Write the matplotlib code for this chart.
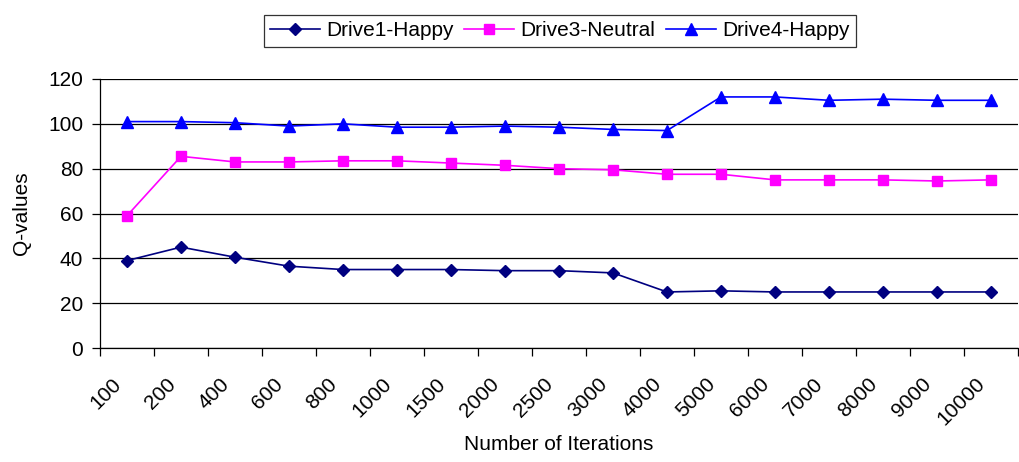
import numpy as np
import matplotlib
matplotlib.use("Agg")
import matplotlib.pyplot as plt
from matplotlib.transforms import ScaledTranslation

plt.rcParams['font.family'] = ['Liberation Sans', 'DejaVu Sans']

# valeurs Q par nombre d'itérations
iterations = ['100', '200', '400', '600', '800', '1000', '1500', '2000', '2500',
              '3000', '4000', '5000', '6000', '7000', '8000', '9000', '10000']
drive1_happy = [39, 45, 40.5, 36.5, 35, 35, 35, 34.5, 34.5, 33.5,
                25, 25.5, 25, 25, 25, 25, 25]
drive3_neutral = [59, 85.5, 83, 83, 83.5, 83.5, 82.5, 81.5, 80, 79.5,
                  77.5, 77.5, 75, 75, 75, 74.5, 75]
drive4_happy = [101, 101, 100.5, 99, 100, 98.5, 98.5, 99, 98.5, 97.5,
                97, 112, 112, 110.5, 111, 110.5, 110.5]

x = np.arange(len(iterations))

fig = plt.figure(figsize=(10.19, 4.62), dpi=100)
ax = fig.add_axes([100/1019, 114/462, 918/1019, 269/462])

ax.plot(x, drive1_happy, color='#000080', marker='D', markersize=6.5, lw=1.2,
        label='Drive1-Happy')
ax.plot(x, drive3_neutral, color='#FF00FF', marker='s', markersize=7.5, lw=1.2,
        label='Drive3-Neutral')
ax.plot(x, drive4_happy, color='#0000FF', marker='^', markersize=8.5, lw=1.2,
        label='Drive4-Happy')

ax.set_xlim(-0.5, len(iterations) - 0.5)
ax.set_ylim(0, 120)
ax.set_yticks(np.arange(0, 121, 20))
ax.yaxis.grid(True, color='black', lw=0.9)
ax.set_axisbelow(True)

# traits de graduation entre les catégories, étiquettes au centre
ax.set_xticks(np.arange(-0.5, len(iterations), 1.0))
ax.set_xticklabels([])
ax.set_xticks(x, minor=True)
ax.set_xticklabels(iterations, minor=True, rotation=45, ha='right', va='top',
                   rotation_mode='anchor', fontsize=15)
ax.tick_params(axis='x', which='major', length=6, width=0.9, direction='out')
ax.tick_params(axis='x', which='minor', length=0, pad=19)
ax.tick_params(axis='y', length=6, width=0.9, pad=6, labelsize=15)
for lab in ax.get_xticklabels(minor=True):
    lab.set_transform(lab.get_transform() + ScaledTranslation(-11/72, 0, fig.dpi_scale_trans))

for s in ['top', 'right']:
    ax.spines[s].set_visible(False)
for s in ['left', 'bottom']:
    ax.spines[s].set_linewidth(0.9)

ax.set_ylabel('Q-values', fontsize=15)
ax.yaxis.set_label_coords(-0.075, 0.5)
ax.set_xlabel('Number of Iterations', fontsize=15)
ax.xaxis.set_label_coords(0.5, -0.322)

leg = fig.legend(loc='upper center', bbox_to_anchor=(0.5496, 0.99), ncol=3,
                 fontsize=15, frameon=True, fancybox=False, edgecolor='black',
                 handlelength=2.4, columnspacing=0.5, handletextpad=0.3,
                 borderpad=0.3)
leg.get_frame().set_linewidth(0.9)

fig.savefig('out.png', dpi=100)
